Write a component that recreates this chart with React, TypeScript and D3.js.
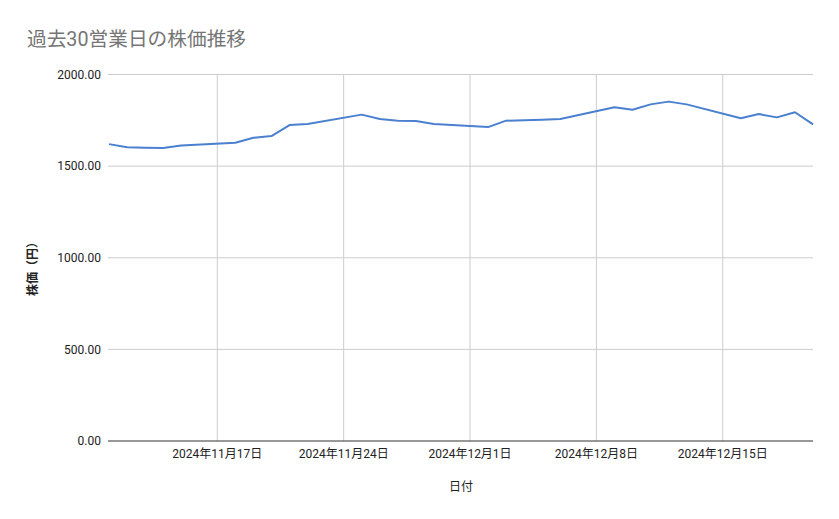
import * as d3 from 'd3';

const dates = [
    '2024-11-11', '2024-11-12', '2024-11-13', '2024-11-14', '2024-11-15',
    '2024-11-18', '2024-11-19', '2024-11-20', '2024-11-21', '2024-11-22',
    '2024-11-25', '2024-11-26', '2024-11-27', '2024-11-28', '2024-11-29',
    '2024-12-02', '2024-12-03', '2024-12-04', '2024-12-05', '2024-12-06',
    '2024-12-09', '2024-12-10', '2024-12-11', '2024-12-12', '2024-12-13',
    '2024-12-16', '2024-12-17', '2024-12-18', '2024-12-19', '2024-12-20',
];

const prices = [
    1620, 1603, 1600, 1599, 1612,
    1628, 1655, 1664, 1724, 1730,
    1781, 1757, 1748, 1746, 1730,
    1713, 1748, 1750, 1753, 1757,
    1821, 1808, 1837, 1852, 1837,
    1761, 1784, 1766, 1794, 1728,
];

const yTicks = [0, 500, 1000, 1500, 2000];

const title = '過去30営業日の株価推移';
const xTitle = '日付';
const yTitle = '株価（円）';

const font = "Roboto, 'Noto Sans CJK JP', sans-serif";

const parse = d3.timeParse('%Y-%m-%d');

export default function App() {
    const width = 839;
    const height = 519;
    const margin = { top: 74.5, right: 26, bottom: 78, left: 109 };

    const points = dates.map((d, i) => ({ date: parse(d)!, value: prices[i] }));

    const x = d3
        .scaleTime()
        .domain([points[0].date, points[points.length - 1].date])
        .range([margin.left, width - margin.right]);

    const y = d3
        .scaleLinear()
        .domain([0, 2000])
        .range([height - margin.bottom, margin.top]);

    // gridlines fall on Sundays, one per week
    const xTicks = x.ticks(d3.timeWeek.every(1)!);
    const fmtDate = (d: Date) => `${d.getFullYear()}年${d.getMonth() + 1}月${d.getDate()}日`;

    const line = d3
        .line<{ date: Date; value: number }>()
        .x((d) => x(d.date))
        .y((d) => y(d.value));

    const [x0, x1] = x.range();
    const [yBottom, yTop] = y.range();

    return (
        <svg width={width} height={height} style={{ position: 'absolute', left: 0, top: 0, background: '#fff' }} fontFamily={font}>
            <text x={27} y={46} fontSize={19.7} fill="#757575">
                {title}
            </text>

            {/* horizontal grid + y labels */}
            {yTicks.map((t) => (
                <g key={t}>
                    {t !== 0 && <line x1={x0 - 1} x2={x1} y1={y(t)} y2={y(t)} stroke="#cccccc" strokeWidth={1} />}
                    <text x={101} y={y(t)} dy="0.35em" textAnchor="end" fontSize={12} fill="#222">
                        {d3.format('.2f')(t)}
                    </text>
                </g>
            ))}

            {/* vertical grid + x labels */}
            {xTicks.map((t) => (
                <g key={+t}>
                    <line x1={x(t)} x2={x(t)} y1={yTop} y2={yBottom} stroke="#cccccc" strokeWidth={1} />
                    <text x={x(t)} y={yBottom + 17} textAnchor="middle" fontSize={12} fill="#222">
                        {fmtDate(t)}
                    </text>
                </g>
            ))}

            {/* baseline */}
            <line x1={x0 - 1} x2={x1} y1={yBottom} y2={yBottom} stroke="#333" strokeWidth={1.2} />

            <path d={line(points)!} fill="none" stroke="#4a80cf" strokeWidth={2} strokeLinejoin="round" />

            <text x={(x0 + x1) / 2} y={491} textAnchor="middle" fontSize={12} fill="#222">
                {xTitle}
            </text>
            <text transform={`translate(37,266) rotate(-90)`} textAnchor="middle" fontSize={12} fontWeight="bold" fill="#222">
                {yTitle}
            </text>
        </svg>
    );
}
